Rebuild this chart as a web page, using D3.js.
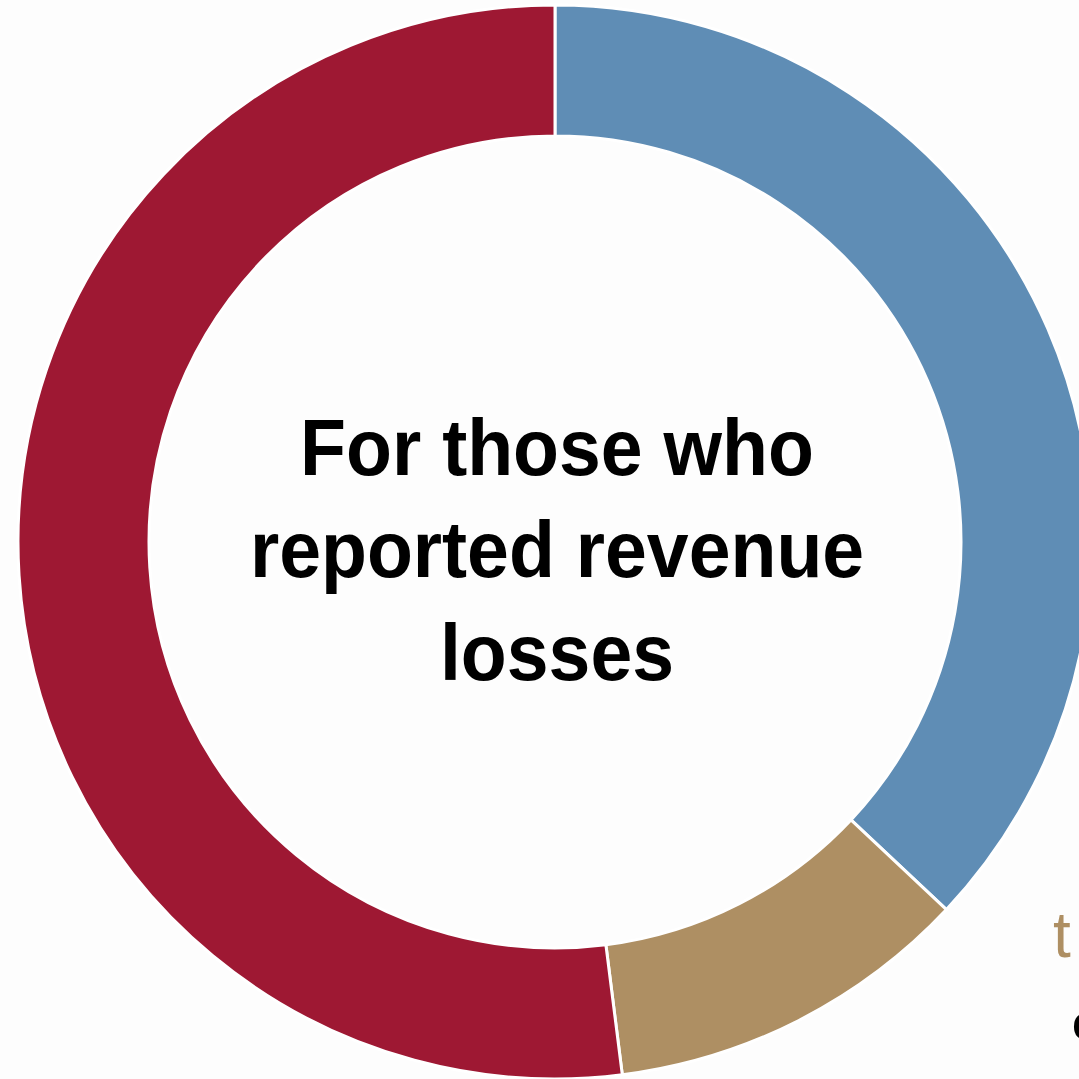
<!DOCTYPE html>
<html>
<head>
<meta charset="utf-8">
<script src="https://cdn.jsdelivr.net/npm/d3@7"></script>
<style>
  html, body { margin: 0; padding: 0; background: #fdfdfd; overflow: hidden; }
  svg { display: block; }
</style>
</head>
<body>
<script>
// Revenue-loss breakdown (shares in percent)
const categories = ["Losses of 50% or more", "Temporarily closed", "Losses under 50%"];
const values = [37, 11, 52];
const colors = ["#5f8db5", "#ae8f63", "#9e1833"];
const centerLines = ["For those who", "reported revenue", "losses"];

const W = 1079, H = 1079;
const cx = 555, cy = 542;
const outerR = 537, innerR = 406;

const svg = d3.select("body").append("svg")
  .attr("width", W).attr("height", H);

svg.append("rect").attr("width", W).attr("height", H).attr("fill", "#fdfdfd");

const pie = d3.pie().sort(null).value(d => d.value);
const arc = d3.arc().innerRadius(innerR).outerRadius(outerR);

const data = categories.map((c, i) => ({ name: c, value: values[i], color: colors[i] }));

const g = svg.append("g").attr("transform", `translate(${cx},${cy})`);

g.selectAll("path.slice")
  .data(pie(data))
  .join("path")
  .attr("class", "slice")
  .attr("d", arc)
  .attr("fill", d => d.data.color)
  .attr("stroke", "#ffffff")
  .attr("stroke-width", 3)
  .attr("stroke-linejoin", "miter");

// Title in the hole of the donut
const title = svg.append("g")
  .attr("transform", `translate(557,0) scale(0.94,1)`);
title.selectAll("text")
  .data(centerLines)
  .join("text")
  .attr("x", 0)
  .attr("y", (d, i) => 475 + i * 102.5)
  .attr("text-anchor", "middle")
  .attr("font-family", "Liberation Sans, Arial, sans-serif")
  .attr("font-weight", "bold")
  .attr("font-size", 80)
  .attr("fill", "#000")
  .text(d => d);

// Outside label for the tan slice (runs past the right edge)
svg.append("text")
  .attr("x", 1053).attr("y", 957)
  .attr("font-family", "Liberation Sans, Arial, sans-serif")
  .attr("font-size", 64)
  .attr("letter-spacing", 10)
  .attr("fill", colors[1])
  .text("temporarily closed");
svg.append("text")
  .attr("x", 1072).attr("y", 1040)
  .attr("font-family", "Liberation Sans, Arial, sans-serif")
  .attr("font-weight", "bold")
  .attr("font-size", 50)
  .attr("fill", "#000")
  .text("closed: " + values[1] + "%");
</script>
</body>
</html>
